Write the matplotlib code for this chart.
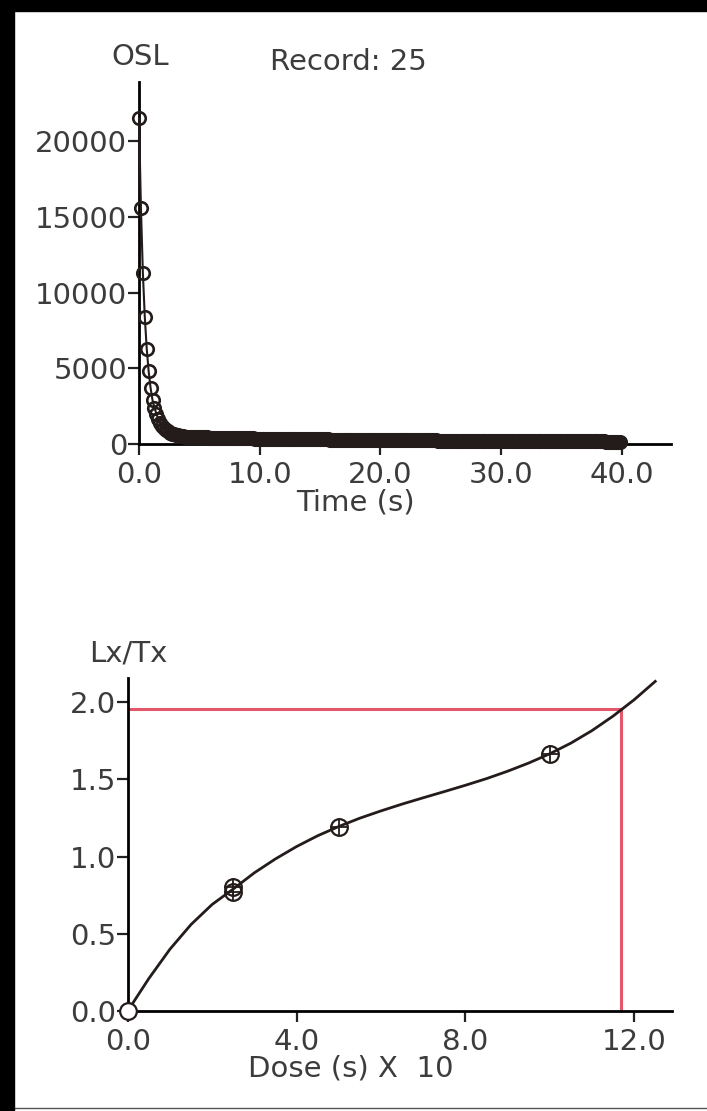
import matplotlib
matplotlib.use('Agg')
import matplotlib.pyplot as plt
import numpy as np
from matplotlib.patches import Rectangle
from matplotlib.lines import Line2D

# OSL decay, record 25 (250 channels, 0.16 s each)
channel_s = 0.16
osl_counts = [
    21500, 15600, 11300, 8400, 6300, 4800, 3700, 2900, 2400, 2000,
    1650, 1400, 1200, 1050, 930, 830, 750, 690, 640, 600,
    570, 545, 525, 505, 490, 478, 472, 466, 461, 456,
    451, 447, 443, 439, 435, 431, 427, 424, 420, 417,
    414, 411, 408, 405, 402, 399, 396, 394, 391, 388,
    386, 383, 381, 379, 376, 374, 372, 370, 367, 365,
    363, 361, 359, 357, 355, 353, 351, 349, 347, 345,
    343, 341, 340, 338, 336, 334, 332, 331, 329, 327,
    326, 324, 322, 321, 319, 317, 316, 314, 313, 311,
    310, 308, 307, 305, 304, 302, 301, 299, 298, 297,
    295, 294, 292, 291, 290, 288, 287, 286, 284, 283,
    282, 280, 279, 278, 277, 275, 274, 273, 272, 270,
    269, 268, 267, 266, 264, 263, 262, 261, 260, 258,
    257, 256, 255, 254, 253, 252, 251, 249, 248, 247,
    246, 245, 244, 243, 242, 241, 240, 239, 238, 237,
    236, 235, 234, 233, 232, 231, 230, 229, 228, 227,
    226, 225, 224, 223, 222, 221, 220, 219, 218, 218,
    217, 216, 215, 214, 213, 212, 211, 211, 210, 209,
    208, 207, 206, 206, 205, 204, 203, 202, 202, 201,
    200, 199, 198, 198, 197, 196, 195, 195, 194, 193,
    192, 192, 191, 190, 189, 189, 188, 187, 187, 186,
    185, 185, 184, 183, 183, 182, 181, 181, 180, 179,
    179, 178, 177, 177, 176, 175, 175, 174, 174, 173,
    172, 172, 171, 171, 170, 169, 169, 168, 168, 167,
    166, 166, 165, 165, 164, 164, 163, 162, 162, 161,
]
time_s = channel_s * np.arange(len(osl_counts))
osl_yticks = [0, 5000, 10000, 15000, 20000]
osl_xticks = [0.0, 10.0, 20.0, 30.0, 40.0]

# Dose response curve
zero_dose = [0.0]
zero_lxtx = [0.0]
dose_points = [2.5, 2.5, 5.0, 10.0]
lxtx_points = [0.805, 0.773, 1.19, 1.665]
fit_dose = [0.0, 0.5, 1.0, 1.5, 2.0, 2.5, 3.0, 3.5, 4.0, 4.5,
            5.0, 5.5, 6.0, 6.5, 7.0, 7.5, 8.0, 8.5, 9.0, 9.5,
            10.0, 10.5, 11.0, 11.5, 12.0, 12.5]
fit_lxtx = [0.0, 0.21, 0.40, 0.56, 0.69, 0.79, 0.895, 0.985, 1.065, 1.135,
            1.195, 1.249, 1.296, 1.34, 1.381, 1.421, 1.462, 1.505, 1.553, 1.606,
            1.666, 1.735, 1.816, 1.91, 2.016, 2.135]
de_dose = 11.69
de_lxtx = 1.959
dose_xticks = [0.0, 4.0, 8.0, 12.0]
dose_yticks = [0.0, 0.5, 1.0, 1.5, 2.0]

W, H = 707, 1111
text_col = '#3c3c3c'
ink = '#231c1a'
red = '#e4566a'
fs = 21


def px_rect(x0, x1, y_top, y_bot):
    return [x0 / W, 1 - y_bot / H, (x1 - x0) / W, (y_bot - y_top) / H]


def style_axes(ax):
    for s in ['top', 'right']:
        ax.spines[s].set_visible(False)
    for s in ['left', 'bottom']:
        ax.spines[s].set_linewidth(2.0)
        ax.spines[s].set_color('black')
    ax.tick_params(direction='out', length=8, width=1.6, color='#222222',
                   labelsize=fs, labelcolor=text_col)
    ax.tick_params(axis='y', pad=0.5)
    ax.tick_params(axis='x', pad=4)
    ax.patch.set_alpha(0)


fig = plt.figure(figsize=(W / 100, H / 100), dpi=100)

# --- OSL decay ---
ax1 = fig.add_axes(px_rect(139, 671, 82, 444))
ax1.plot(time_s, osl_counts, color=ink, lw=1.5, marker='o', ms=9,
         mfc='none', mec=ink, mew=1.9, clip_on=False, zorder=3)
ax1.set_xlim(0, 44.1)
ax1.set_ylim(0, 23900)
ax1.set_xticks(osl_xticks)
ax1.set_xticklabels(['%.1f' % v for v in osl_xticks])
ax1.set_yticks(osl_yticks)
ax1.set_yticklabels([str(v) for v in osl_yticks])
style_axes(ax1)

# --- Dose response ---
ax2 = fig.add_axes(px_rect(127.7, 671.7, 678.3, 1011))
ax2.plot([0, de_dose], [de_lxtx, de_lxtx], color=red, lw=2.2, zorder=1)
ax2.plot([de_dose, de_dose], [0, de_lxtx], color=red, lw=2.2, zorder=1)
ax2.plot(fit_dose, fit_lxtx, color=ink, lw=2.0, zorder=2, clip_on=False)
ax2.plot(dose_points, lxtx_points, ls='none', marker='o', ms=12,
         mfc='none', mec=ink, mew=1.6, zorder=3, clip_on=False)
ax2.plot(dose_points, lxtx_points, ls='none', marker='+', ms=13,
         mec=ink, mew=1.3, zorder=3, clip_on=False)
ax2.plot(zero_dose, zero_lxtx, ls='none', marker='o', ms=12,
         mfc='white', mec=ink, mew=1.6, zorder=4, clip_on=False)
ax2.set_xlim(0, 12.89)
ax2.set_ylim(0, 2.155)
ax2.set_xticks(dose_xticks)
ax2.set_xticklabels(['%.1f' % v for v in dose_xticks])
ax2.set_yticks(dose_yticks)
ax2.set_yticklabels(['%.1f' % v for v in dose_yticks])
style_axes(ax2)


def ftext(x, y, s, **kw):
    fig.text(x / W, 1 - y / H, s, ha='center', va='center', fontsize=fs,
             color=text_col, **kw)


ftext(140, 57, 'OSL')
ftext(348, 62, 'Record: 25')
ftext(355, 503, 'Time (s)')
ftext(128, 653, 'Lx/Tx')
ftext(351, 1068, 'Dose (s) X  10')

# scan border
fig.patches.append(Rectangle((0, 0), 14 / W, 1, transform=fig.transFigure,
                             color='black', zorder=10))
fig.patches.append(Rectangle((0, 1 - 11 / H), 1, 11 / H,
                             transform=fig.transFigure, color='black',
                             zorder=10))
fig.lines.append(Line2D([14 / W, 1], [1 - 1108 / H, 1 - 1108 / H],
                        transform=fig.transFigure, color='#555555', lw=1))

fig.savefig('out.png', dpi=100)
